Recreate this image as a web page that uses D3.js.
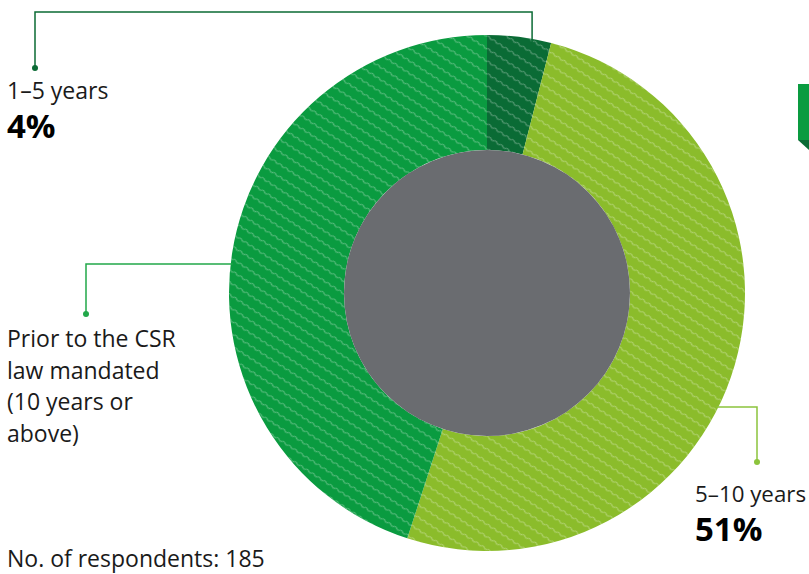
<!DOCTYPE html>
<html>
<head>
<meta charset="utf-8">
<script src="https://cdn.jsdelivr.net/npm/d3@7/dist/d3.min.js"></script>
<style>
  html, body { margin: 0; padding: 0; background: #fff; }
  svg { display: block; font-family: "Open Sans", sans-serif; }
</style>
</head>
<body>
<svg id="chart" width="809" height="574"></svg>
<script>
// Survey: how long companies have been doing CSR
const categories = ["1–5 years", "5–10 years", "Prior to the CSR law mandated (10 years or above)"];
const shares = [4, 51, 45];
const sliceColors = ["#0a6b35", "#8bbc2b", "#0a9b40"];
const leaderColors = ["#0b6b35", "#8cc43c", "#22a84a"];
const shownPercent = ["4%", "51%", null];
const respondents = 185;

const svg = d3.select("#chart");
const cx = 487, cy = 293, outerR = 258, innerR = 143;

// wavy diagonal hatch overlay
const defs = svg.append("defs");
const pat = defs.append("pattern")
  .attr("id", "wave")
  .attr("patternUnits", "userSpaceOnUse")
  .attr("width", 7).attr("height", 10.5)
  .attr("patternTransform", "rotate(33)");
pat.append("path")
  .attr("d", "M0,5 q1.75,-1.5 3.5,0 t3.5,0")
  .attr("fill", "none")
  .attr("stroke", "#ffffff")
  .attr("stroke-opacity", 0.33)
  .attr("stroke-width", 1);

const pie = d3.pie().sort(null).value(d => d)(shares);
const arc = d3.arc().innerRadius(innerR).outerRadius(outerR);

const g = svg.append("g").attr("transform", `translate(${cx},${cy})`);
g.selectAll("path.slice").data(pie).join("path")
  .attr("class", "slice")
  .attr("d", arc)
  .attr("fill", (d, i) => sliceColors[i]);
g.selectAll("path.hatch").data(pie).join("path")
  .attr("class", "hatch")
  .attr("d", arc)
  .attr("fill", "url(#wave)");
g.append("circle").attr("r", innerR).attr("fill", "#6a6c70");

// point on the outer rim at a given angle (0 = top, clockwise)
function rim(angle, r) {
  return [cx + r * Math.sin(angle), cy - r * Math.cos(angle)];
}

// leader for 1–5 years: from the slice up, across to the left, down to the label
(function () {
  const p = pie[0];
  const a = (p.startAngle + p.endAngle) / 2 + 0.05;
  const [x0] = rim(a, outerR);
  const yTop = 12, xL = 35, yDot = 68;
  const ey = cy - Math.sqrt(outerR * outerR - (x0 - cx) * (x0 - cx)) + 6;
  svg.append("path")
    .attr("d", `M${x0},${ey} V${yTop} H${xL} V${yDot}`)
    .attr("fill", "none").attr("stroke", leaderColors[0]).attr("stroke-width", 1.5);
  svg.append("circle").attr("cx", xL).attr("cy", yDot).attr("r", 3).attr("fill", leaderColors[0]);
})();

// leader for the "prior" slice: from the left rim across, then down
(function () {
  const yH = 264, xL = 86, yDot = 314;
  const x0 = cx - Math.sqrt(outerR * outerR - (yH - cy) * (yH - cy)) + 2;
  svg.append("path")
    .attr("d", `M${x0},${yH} H${xL} V${yDot}`)
    .attr("fill", "none").attr("stroke", leaderColors[2]).attr("stroke-width", 1.5);
  svg.append("circle").attr("cx", xL).attr("cy", yDot).attr("r", 3).attr("fill", leaderColors[2]);
})();

// leader for 5–10 years: from the right rim across, then down
(function () {
  const yH = 407, xR = 757, yDot = 462;
  const x0 = cx + Math.sqrt(outerR * outerR - (yH - cy) * (yH - cy)) - 2;
  svg.append("path")
    .attr("d", `M${x0},${yH} H${xR} V${yDot}`)
    .attr("fill", "none").attr("stroke", leaderColors[1]).attr("stroke-width", 1.5);
  svg.append("circle").attr("cx", xR).attr("cy", yDot).attr("r", 3).attr("fill", leaderColors[1]);
})();

const labelSize = 23, pctSize = 33;
const txt = svg.append("g").attr("fill", "#1a1a1a");

// 1–5 years
txt.append("text").attr("x", 7).attr("y", 99).attr("font-size", labelSize).text(categories[0]);
txt.append("text").attr("x", 7).attr("y", 138).attr("font-size", pctSize)
  .attr("font-weight", 700).attr("fill", "#000").text(shownPercent[0]);

// 5–10 years (slightly tighter so it stays inside the right edge)
txt.append("text").attr("x", 695).attr("y", 502).attr("font-size", 22.3).text(categories[1]);
txt.append("text").attr("x", 695).attr("y", 541).attr("font-size", pctSize)
  .attr("font-weight", 700).attr("fill", "#000").text(shownPercent[1]);

// prior label, wrapped on four lines
const priorLines = ["Prior to the CSR", "law mandated", "(10 years or", "above)"];
txt.append("text").attr("x", 7).attr("y", 347).attr("font-size", labelSize)
  .selectAll("tspan").data(priorLines).join("tspan")
  .attr("x", 7).attr("dy", (d, i) => i === 0 ? 0 : 31.7).text(d => d);

// footnote
txt.append("text").attr("x", 7).attr("y", 567).attr("font-size", labelSize)
  .text(`No. of respondents: ${respondents}`);

// green ribbon marker at the right edge
svg.append("rect").attr("x", 798).attr("y", 84).attr("width", 12).attr("height", 56).attr("fill", "#0a9b40");
svg.append("path").attr("d", "M798,140 L810,140 L810,151 Z").attr("fill", "#0a6b35");
</script>
</body>
</html>
